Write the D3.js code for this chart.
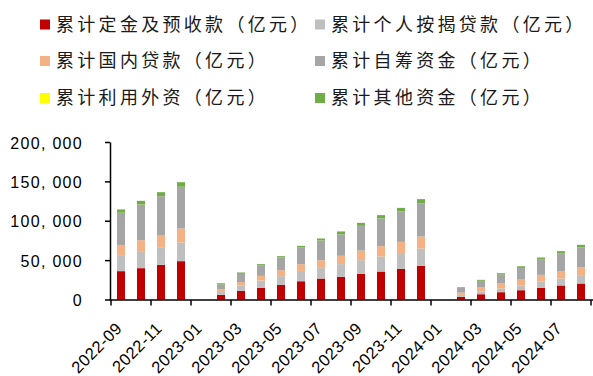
<!DOCTYPE html>
<html>
<head>
<meta charset="utf-8">
<script src="https://cdn.jsdelivr.net/npm/d3@7/dist/d3.min.js"></script>
<style>
  html, body { margin: 0; padding: 0; background: #fff; }
  svg { display: block; }
</style>
</head>
<body>
<svg id="chart" width="593" height="376"></svg>
<script>
// Months on the category axis (January has no separate release, so it stays empty)
const months = [
  "2022-09","2022-10","2022-11","2022-12",
  "2023-01","2023-02","2023-03","2023-04","2023-05","2023-06","2023-07","2023-08",
  "2023-09","2023-10","2023-11","2023-12",
  "2024-01","2024-02","2024-03","2024-04","2024-05","2024-06","2024-07","2024-08"
];

// Cumulative funding by source, 亿元
const depositsAdvance = [36000,39800,44000,48700, null,5850,11000,14800,18600,23200,26600,28800,32600,35500,38900,42700, null,3400,6700,9300,11800,14800,17800,20300];
const mortgageLoans   = [19400,20700,21600,23700, null,3800,6800,9300,11000,13100,13600,16100,17300,19100,20300,22000, null,2500,3400,4700,5900,8000,8900,9700];
const domesticLoans   = [13600,14800,16100,17800, null,3450,4200,5900,7600,8500,9700,10600,12300,13100,14000,15300, null,2900,5100,6300,7600,8500,9300,11100];
const selfRaised      = [41100,45300,49500,52900, null,5950,10600,13600,16100,21200,25000,27100,31300,35200,38500,42300, null,5900,8500,11400,14800,19500,22400,24900];
const foreignCapital  = [70,77,77,78, null,10,15,20,25,30,35,40,40,45,45,47, null,5,8,10,12,15,17,20];
const otherFunds      = [4200,4600,5000,5800, null,1600,1700,1300,1700,2100,2500,3800,3800,4200,4600,5100, null,850,1250,1700,2100,2500,3000,3400];

const seriesNames = [
  "累计定金及预收款（亿元）",
  "累计个人按揭贷款（亿元）",
  "累计国内贷款（亿元）",
  "累计自筹资金（亿元）",
  "累计利用外资（亿元）",
  "累计其他资金（亿元）"
];
const seriesColors = ["#C00000", "#BFBFBF", "#F4B183", "#A5A5A5", "#FFFF00", "#70AD47"];

const yTicks = [0, 50000, 100000, 150000, 200000];
const xLabelMonths = months.filter((m, i) => i % 2 === 0);

// Build rows for the stack layout
const seriesData = [depositsAdvance, mortgageLoans, domesticLoans, selfRaised, foreignCapital, otherFunds];
const keys = seriesNames;
const rows = months.map((m, i) => {
  const r = { month: m, empty: depositsAdvance[i] === null };
  keys.forEach((k, j) => { r[k] = seriesData[j][i] || 0; });
  return r;
});

const svg = d3.select("#chart");

const x = d3.scaleBand()
  .domain(months)
  .range([111, 591])
  .paddingInner(0.6)
  .paddingOuter(0.3);

const y = d3.scaleLinear()
  .domain([0, 200000])
  .range([299.5, 142]);

const stacked = d3.stack().keys(keys)(rows);

// Bars
const layers = svg.append("g").attr("class", "bars")
  .selectAll("g")
  .data(stacked)
  .join("g")
  .attr("fill", (d, i) => seriesColors[i]);

layers.selectAll("rect")
  .data(d => d.filter(p => !p.data.empty))
  .join("rect")
  .attr("x", p => x(p.data.month))
  .attr("width", x.bandwidth())
  .attr("y", p => y(p[1]))
  .attr("height", p => Math.max(0, y(p[0]) - y(p[1])));

// Y axis
const yAxis = d3.axisLeft(y)
  .tickValues(yTicks)
  .tickSize(5)
  .tickSizeOuter(0)
  .tickFormat(v => d3.format(",")(v).replace(/,/g, ", "));

const gy = svg.append("g")
  .attr("transform", `translate(${x.range()[0] - 1},0)`)
  .call(yAxis);
gy.select(".domain").attr("stroke", "#000").attr("stroke-width", 1.5);
gy.selectAll(".tick line").attr("stroke", "#000").attr("stroke-width", 1.5);
gy.selectAll(".tick text")
  .attr("x", -27)
  .attr("dy", "0.38em")
  .attr("fill", "#000")
  .style("font-family", "'Liberation Sans', Arial, sans-serif")
  .style("font-size", "16px")
  .style("letter-spacing", "1.3px");

// X axis: line, tick marks on every other band boundary, rotated labels
const step = x.step();
const boundary = m => x(m) + x.bandwidth() / 2 - step / 2;
const gx = svg.append("g").attr("class", "x-axis");
gx.append("line")
  .attr("x1", x.range()[0] - 1.5)
  .attr("x2", 593)
  .attr("y1", y(0) + 0.5)
  .attr("y2", y(0) + 0.5)
  .attr("stroke", "#000")
  .attr("stroke-width", 1.5);

const tickXs = xLabelMonths.map(boundary).concat([x.range()[1]]);
gx.selectAll("line.tick")
  .data(tickXs)
  .join("line")
  .attr("class", "tick")
  .attr("x1", d => d).attr("x2", d => d)
  .attr("y1", y(0) + 0.5).attr("y2", y(0) + 6)
  .attr("stroke", "#000")
  .attr("stroke-width", 1.5);

gx.selectAll("text")
  .data(xLabelMonths)
  .join("text")
  .attr("transform", m => `translate(${x(m) + x.bandwidth() / 2 + 2},${y(0) + 30}) rotate(-45)`)
  .attr("text-anchor", "end")
  .attr("fill", "#000")
  .style("font-family", "'Liberation Sans', Arial, sans-serif")
  .style("font-size", "16.5px")
  .style("letter-spacing", "0.4px")
  .text(m => m);

// Legend: two columns, three rows
const legendCols = [40, 315];
const legendRows = [24.5, 61, 98];
const legend = svg.append("g").attr("class", "legend")
  .selectAll("g")
  .data(seriesNames)
  .join("g")
  .attr("transform", (d, i) => `translate(${legendCols[i % 2]},${legendRows[Math.floor(i / 2)]})`);

legend.append("rect")
  .attr("x", 0).attr("y", -5)
  .attr("width", 10).attr("height", 10)
  .attr("fill", (d, i) => seriesColors[i]);

legend.append("text")
  .attr("x", 16)
  .attr("dy", "0.36em")
  .attr("fill", "#1a1a1a")
  .style("font-family", "'Noto Sans CJK SC', sans-serif")
  .style("font-size", "18px")
  .style("letter-spacing", "3.3px")
  .text(d => d);
</script>
</body>
</html>
